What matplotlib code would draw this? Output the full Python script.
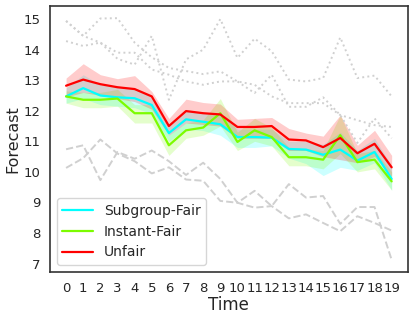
import matplotlib
matplotlib.use("Agg")
import matplotlib.pyplot as plt
import seaborn as sns
import numpy as np

sns.set_style("white")
plt.rcParams['font.family'] = ['DejaVu Sans']

time = list(range(20))

unfair = [12.82, 13.02, 12.87, 12.77, 12.71, 12.47, 11.50, 11.99, 11.92, 11.88,
          11.47, 11.47, 11.50, 11.06, 11.03, 10.81, 11.11, 10.61, 10.92, 10.15]
unfair_hi = [13.07, 13.54, 13.18, 13.05, 13.15, 12.63, 11.75, 12.38, 12.27, 12.22,
             11.72, 11.75, 11.78, 11.42, 11.27, 11.17, 11.86, 10.87, 11.36, 10.54]
unfair_lo = [12.45, 12.60, 12.50, 12.40, 12.30, 12.05, 11.20, 11.60, 11.55, 11.50,
             11.10, 11.10, 11.10, 10.70, 10.70, 10.50, 10.40, 10.30, 10.50, 9.85]

subgroup = [12.47, 12.74, 12.50, 12.44, 12.41, 12.19, 11.27, 11.72, 11.64, 11.56,
            11.14, 11.14, 11.12, 10.75, 10.73, 10.56, 10.73, 10.37, 10.65, 9.77]
subgroup_hi = [12.75, 13.18, 12.85, 12.80, 12.75, 12.45, 11.50, 12.00, 11.95, 11.90,
               11.40, 11.40, 11.40, 11.00, 11.00, 10.90, 11.30, 10.70, 11.10, 10.20]
subgroup_lo = [12.25, 12.40, 12.20, 12.15, 12.10, 11.90, 11.00, 11.40, 11.35, 11.20,
               10.80, 10.80, 10.85, 10.45, 10.27, 9.88, 10.15, 10.05, 10.30, 9.40]

instant = [12.47, 12.36, 12.36, 12.40, 11.92, 11.92, 10.87, 11.36, 11.45, 11.92,
           10.98, 11.36, 11.14, 10.48, 10.48, 10.40, 11.20, 10.32, 10.40, 9.69]
instant_hi = [12.65, 12.60, 12.60, 12.70, 12.20, 12.20, 11.20, 11.60, 11.70, 12.40,
              11.30, 11.75, 11.45, 10.80, 10.75, 10.70, 11.86, 10.60, 10.70, 10.00]
instant_lo = [12.25, 12.10, 12.10, 12.15, 11.60, 11.60, 10.54, 11.10, 11.20, 11.50,
              10.70, 11.00, 10.85, 10.20, 10.20, 10.10, 10.60, 10.00, 10.10, 9.40]

dotted_a = [14.94, 14.45, 15.02, 15.03, 14.23, 13.75, 13.40, 13.30, 13.20, 13.29,
            12.96, 12.85, 12.47, 12.25, 12.25, 12.25, 11.86, 11.69, 11.53, 11.47]
dotted_b = [14.28, 14.12, 14.23, 13.70, 13.51, 14.45, 12.36, 13.68, 14.00, 15.00,
            13.73, 14.36, 13.95, 13.02, 12.96, 13.07, 14.40, 13.07, 13.15, 12.47]
dotted_c = [14.94, 14.45, 14.23, 13.90, 13.90, 13.35, 13.18, 12.96, 12.85, 12.96,
            12.96, 12.58, 13.18, 12.13, 12.13, 12.44, 11.86, 10.95, 11.75, 11.10]

dashed_a = [10.13, 10.45, 11.06, 10.60, 10.35, 9.95, 10.15, 9.75, 9.71, 9.05,
            8.99, 8.83, 8.88, 8.48, 8.61, 8.33, 8.06, 8.55, 8.33, 8.08]
dashed_b = [10.74, 10.87, 9.73, 10.65, 10.43, 10.70, 10.35, 9.90, 10.30, 9.77,
            8.99, 9.38, 8.88, 9.60, 9.16, 9.21, 8.30, 8.85, 8.85, 7.12]

fig = plt.figure(figsize=(4.15, 3.2), dpi=100)
ax = fig.add_axes([0.12, 0.15, 0.863, 0.831])

gray = '#d0d0d0'
for d in (dotted_a, dotted_b, dotted_c):
    ax.plot(time, d, color=gray, linestyle=':', linewidth=1.4)
for d in (dashed_a, dashed_b):
    ax.plot(time, d, color=gray, linestyle='--', linewidth=1.4)

series = [
    ("Subgroup-Fair", subgroup, subgroup_lo, subgroup_hi, '#00ffff'),
    ("Instant-Fair", instant, instant_lo, instant_hi, '#7cfc00'),
    ("Unfair", unfair, unfair_lo, unfair_hi, '#ff0000'),
]
for name, y, lo, hi, c in series:
    ax.fill_between(time, lo, hi, color=c, alpha=0.2, linewidth=0)
    ax.plot(time, y, color=c, linewidth=1.6, label=name)

ax.set_xticks(time)
ax.set_yticks(range(7, 16))
ax.tick_params(axis='both', labelsize=9.5, colors='#262626')
ax.set_xlabel("Time", fontsize=12, labelpad=1)
ax.set_ylabel("Forecast", fontsize=11.5, labelpad=2)
for s in ax.spines.values():
    s.set_color('#333333')
    s.set_linewidth(1.2)

ax.legend(loc='lower left', fontsize=10, handlelength=2.2)

fig.savefig("out.png", dpi=100)
